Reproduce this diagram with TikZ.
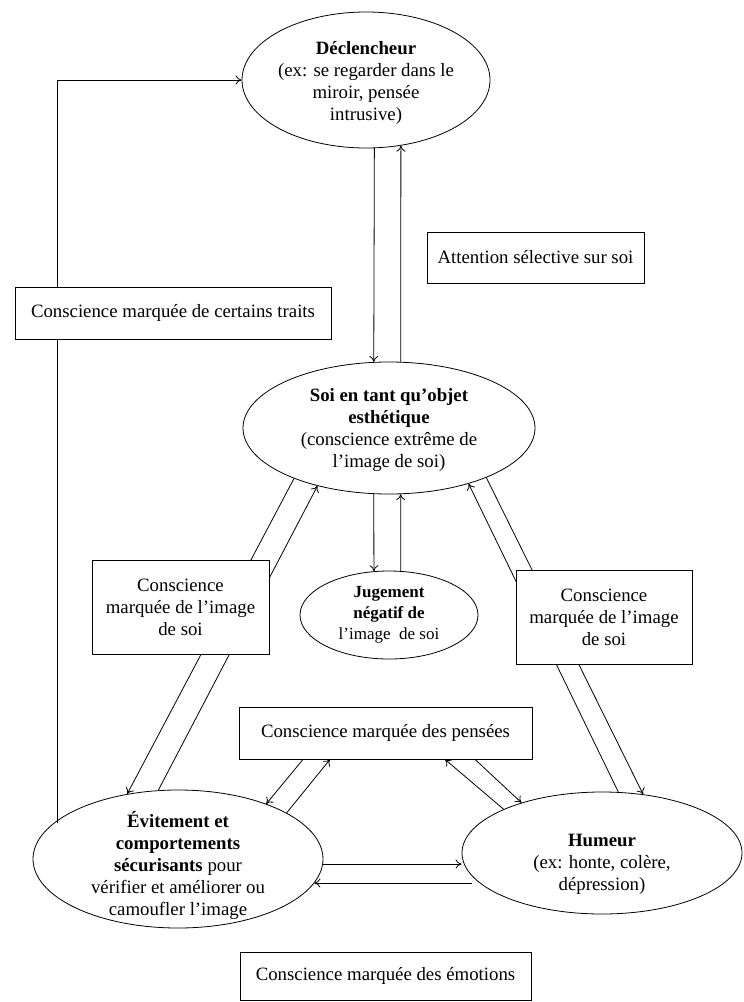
\documentclass[tikz,border=0pt]{standalone}
\usepackage{fontspec}
\setmainfont{Liberation Serif}
\usetikzlibrary{arrows.meta,shapes,backgrounds}

\begin{document}
\begin{tikzpicture}[x=1pt,y=-1pt,
    every node/.style={font=\fontsize{18.8}{22}\selectfont},
    oval/.style={ellipse,draw,line width=0.8pt,inner sep=0pt},
    box/.style={rectangle,draw,fill=white,line width=0.8pt,inner sep=0pt,align=center},
    txt/.style={align=center,inner sep=0pt},
    arr/.style={-{To[length=6pt,width=9pt]},line width=0.8pt},
    con/.style={line width=0.8pt}]
    \useasboundingbox (0,0) rectangle (744,1002);

    % ovals
    \node[oval,minimum width=248pt,minimum height=136pt,
          label={[txt,yshift=-3pt]center:{\textbf{Déclencheur}\\(ex: se regarder dans le\\miroir, pensée\\intrusive)}}] (decl) at (366,80) {};
    \node[oval,minimum width=292pt,minimum height=132pt,
          label={[txt,yshift=-2pt]center:{\textbf{Soi en tant qu’objet}\\\textbf{esthétique}\\(conscience extrême de\\l’image de soi)}}] (soi) at (389,428) {};
    \node[oval,minimum width=178pt,minimum height=88pt,
          label={[txt,font=\fontsize{17}{21}\selectfont]center:{\textbf{Jugement}\\\textbf{négatif de}\\l’image~~de soi}}] (jug) at (389,615) {};
    \node[oval,minimum width=290pt,minimum height=138pt,
          label={[txt,yshift=-6pt]center:{\textbf{Évitement et}\\\textbf{comportements}\\\textbf{sécurisants} pour\\vérifier et améliorer ou\\camoufler l’image}}] (evit) at (178,859) {};
    \node[oval,minimum width=280pt,minimum height=122pt,
          label={[txt,yshift=-11pt]center:{\textbf{Humeur}\\(ex: honte, colère,\\dépression)}}] (hum) at (602,853) {};

    % boxes
    \node[box,minimum width=316pt,minimum height=52pt] (traits) at (173,313) {Conscience marquée de certains traits};
    \node[box,minimum width=217pt,minimum height=51pt] (attn) at (535.5,257.5) {Attention sélective sur soi};
    \node[box,minimum width=177pt,minimum height=94pt] (imgL) at (180.5,607) {Conscience\\marquée de l’image\\de soi};
    \node[box,minimum width=176pt,minimum height=94pt] (imgR) at (604,617) {Conscience\\marquée de l’image\\de soi};
    \node[box,minimum width=293pt,minimum height=52pt] (pens) at (385.5,733) {Conscience marquée des pensées};
    \node[box,minimum width=291pt,minimum height=48pt] (emot) at (385.5,976) {Conscience marquée des émotions};

    \coordinate (tt) at ([xshift=43pt]traits.north west);
    \coordinate (tb) at ([xshift=43pt]traits.south west);

    \begin{scope}[on background layer]
        \draw[arr] (tt) |- (decl.west);
        \draw[con] (tb) -- (tb |- evit.164);

        \draw[arr] (decl.277) -- (soi.103);
        \draw[arr] (soi.80) -- (decl.298);
        \draw[arr] (soi.257) -- (jug.109);
        \draw[arr] (jug.75) -- (soi.280);

        \draw[arr] (soi.208) -- (evit.128);
        \draw[arr] (evit.106) -- (soi.219);
        \draw[arr] (soi.333) -- (hum.55);
        \draw[arr] (hum.75) -- (soi.325);

        \draw[arr] ([xshift=-82.5pt]pens.south) -- (evit.32);
        \draw[arr] (evit.23) -- ([xshift=-55.5pt]pens.south);
        \draw[arr] (hum.156) -- ([xshift=59.5pt]pens.south);
        \draw[arr] ([xshift=89.5pt]pens.south) -- (hum.148);

        \draw[arr] (evit.358) -- (evit.358 -| hum.west);
        \draw[arr] (hum.190 |- evit.350) -- (evit.350);
    \end{scope}
\end{tikzpicture}
\end{document}
